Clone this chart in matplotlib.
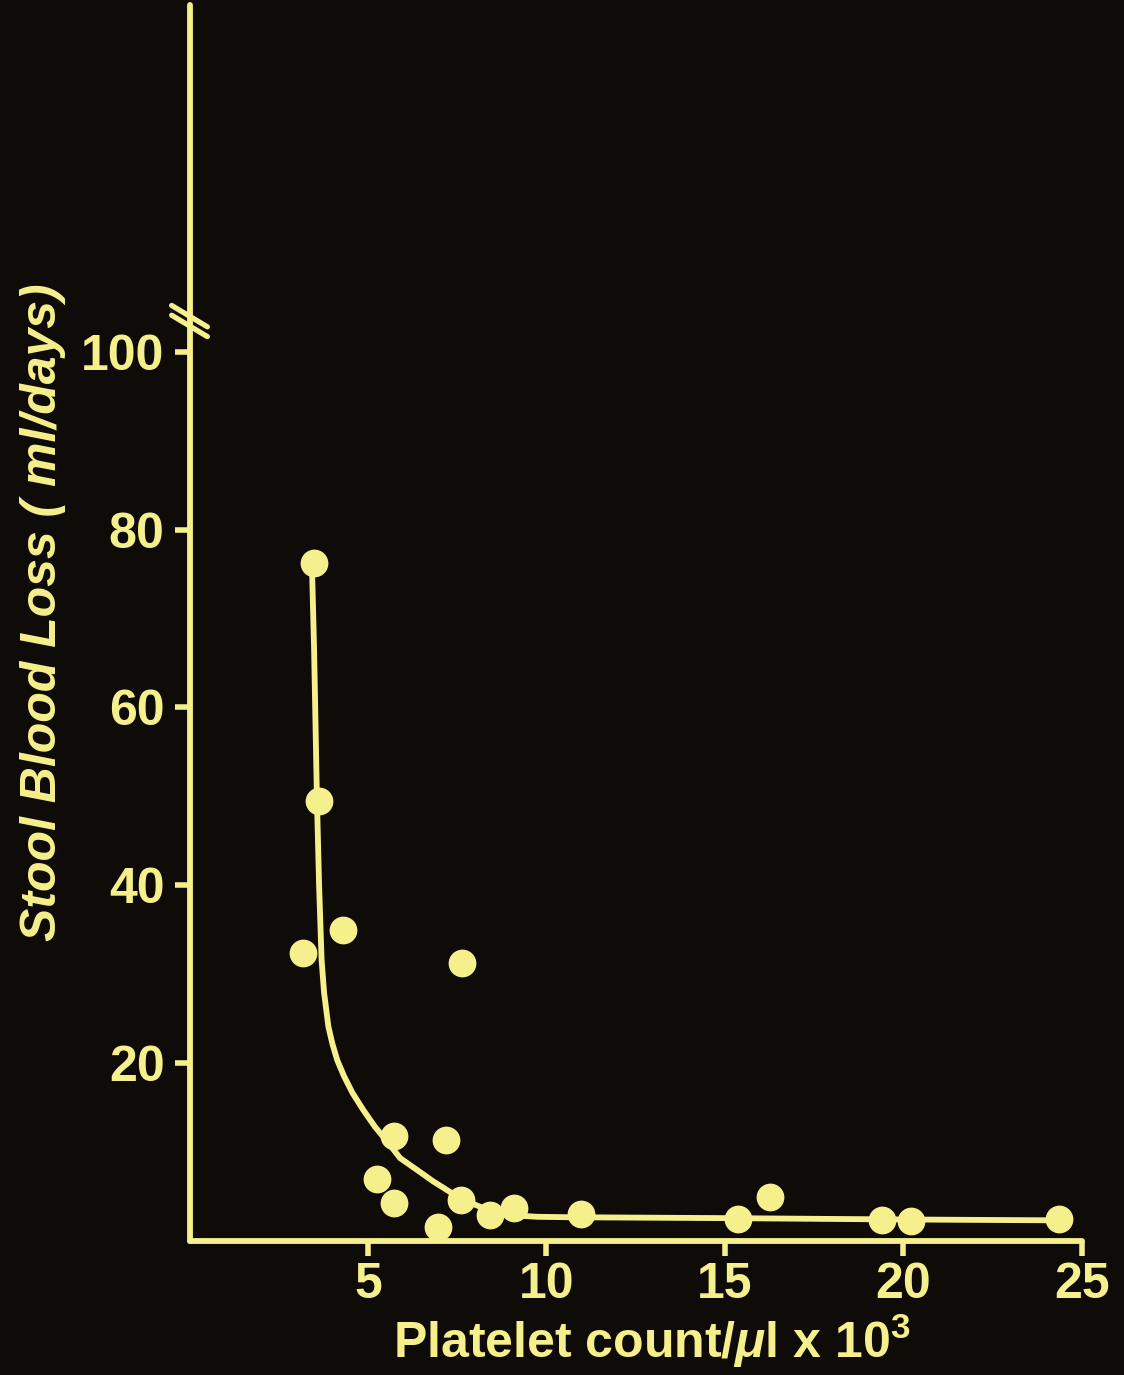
import matplotlib
matplotlib.use("Agg")
import matplotlib.pyplot as plt

# data
platelets = [3.48, 3.62, 3.17, 4.30, 7.62, 5.72, 7.18, 5.26, 5.72, 6.96, 7.60, 8.42, 9.09, 10.97, 15.37, 16.27, 19.39, 20.20, 24.36]
blood_loss = [76.2, 49.5, 32.4, 35.0, 31.2, 11.8, 11.3, 7.0, 4.2, 1.6, 4.6, 2.9, 3.7, 3.0, 2.4, 4.9, 2.3, 2.2, 2.4]

# fitted curve
curve_x = [3.43, 3.49, 3.57, 3.63, 3.70, 3.77, 3.89, 4.00, 4.14, 4.33, 4.57, 4.87, 5.20, 5.57, 5.90,
           6.22, 6.54, 6.82, 7.10, 7.49, 7.85, 8.22, 8.60, 8.98, 9.73, 10.66, 15.0, 19.9, 24.37]
curve_y = [75.9, 66.5, 49.6, 40.0, 31.6, 27.9, 24.1, 22.2, 20.3, 18.5, 16.6, 14.7, 12.8, 11.0, 9.3,
           8.4, 7.5, 6.7, 6.0, 5.0, 4.3, 3.7, 3.2, 2.9, 2.7, 2.65, 2.55, 2.4, 2.3]

xticks = [5, 10, 15, 20, 25]
yticks = [20, 40, 60, 80, 100]

bg = '#0e0b08'
yel = '#f6f08c'

plt.rcParams['font.family'] = ['Liberation Sans', 'DejaVu Sans']
plt.rcParams['mathtext.fontset'] = 'custom'
plt.rcParams['mathtext.rm'] = 'Liberation Sans:bold'
plt.rcParams['mathtext.it'] = 'Liberation Sans:italic:bold'

fig = plt.figure(figsize=(11.24, 13.75), dpi=100, facecolor=bg)
ax = fig.add_axes([0.1686, 0.0976, 0.9626 - 0.1686, 0.9964 - 0.0976])
ax.set_facecolor(bg)

ax.plot(curve_x, curve_y, color=yel, lw=4.2, solid_capstyle='round', solid_joinstyle='round', zorder=2)
ax.plot(platelets, blood_loss, 'o', color=yel, ms=20, mec='none', zorder=3, clip_on=False)

ax.set_xlim(0, 25)
ax.set_ylim(0, 139)
ax.set_xticks(xticks)
ax.set_yticks(yticks)
ax.set_xticklabels([str(t) for t in xticks])
ax.set_yticklabels([str(t) for t in yticks])

for s in ['top', 'right']:
    ax.spines[s].set_visible(False)
for s in ['left', 'bottom']:
    ax.spines[s].set_color(yel)
    ax.spines[s].set_linewidth(4.2)
    ax.spines[s].set_capstyle('round')

ax.tick_params(colors=yel, length=11, width=4.0, labelsize=36, direction='out')
ax.tick_params(axis='y', pad=7)
ax.tick_params(axis='x', pad=4)
for lab in ax.get_xticklabels() + ax.get_yticklabels():
    lab.set_fontweight('bold')

# axis break marks on the y axis
break_y = 104
for off in [0, 1.1]:
    ax.plot([-0.5, 0.5], [break_y + 1.2 - off, break_y - 1.2 - off], color=yel, lw=3.8,
            clip_on=False, solid_capstyle='round', zorder=4)

fig.text(0.58, 0.025, r'Platelet count/$\mathit{\mu}$l x 10$^{3}$', color=yel,
         fontsize=36, fontweight='bold', ha='center', va='center')
fig.text(0.038, 0.555, 'Stool Blood Loss ( ml/days)', color=yel, fontsize=36,
         fontweight='bold', style='italic', rotation=90, ha='center', va='center')

fig.savefig('out.png', dpi=100, facecolor=bg)
